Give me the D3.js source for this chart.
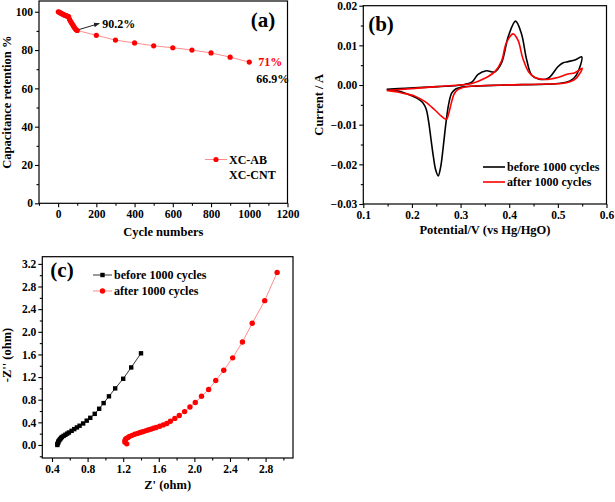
<!DOCTYPE html>
<html><head><meta charset="utf-8">
<script src="https://cdn.jsdelivr.net/npm/d3@7/dist/d3.min.js"></script>
<style>
body{margin:0;background:#fff;}
text{font-family:"Liberation Serif","Times New Roman",serif;font-weight:bold;}
</style></head><body>
<svg id="c" width="615" height="502"></svg>
<script>
// ---------- Panel (a) data ----------
const cycles = [1,5,10,15,20,25,30,35,40,45,50,55,60,65,70,75,80,85,90,95,100,200,300,400,500,600,700,800,900,1000];
const retention = [100,99.8,99.5,99.2,98.9,98.7,98.4,98.2,98.0,97.8,97.6,97.4,96.0,95.0,94.2,93.4,92.6,91.8,91.1,90.6,90.2,87.7,85.2,83.7,82.2,81.2,80.0,78.5,76.3,73.7];
const aXTicks = [0,200,400,600,800,1000,1200];
const aYTicks = [0,20,40,60,80,100];

// ---------- Panel (b) data (CV loops, potential V / current A) ----------
const cvBeforeE = [0.148,0.186,0.254,0.302,0.323,0.336,0.353,0.370,0.384,0.398,0.413,0.425,0.436,0.446,0.460,0.480,0.500,0.511,0.521,0.535,0.549,
                   0.538,0.525,0.500,0.390,0.323,0.300,0.290,0.282,0.276,0.270,0.264,0.259,0.254,0.249,0.244,0.239,0.234,0.229,0.222,0.210,0.192,0.172,0.148];
const cvBeforeI = [-0.0011,-0.0008,-0.0004,0.0000,0.0007,0.0027,0.0036,0.0033,0.0055,0.0122,0.0161,0.0130,0.0063,0.0025,0.0015,0.0017,0.0046,0.0056,0.0059,0.0063,0.0071,
                   0.0025,0.0010,0.0004,0.0000,-0.0003,-0.0006,-0.0010,-0.0020,-0.0045,-0.0095,-0.0160,-0.0207,-0.0229,-0.0215,-0.0180,-0.0135,-0.0090,-0.0060,-0.0044,-0.0033,-0.0023,-0.0015,-0.0011];
const cvAfterE = [0.148,0.250,0.323,0.350,0.370,0.384,0.394,0.408,0.418,0.428,0.440,0.453,0.473,0.500,0.521,0.535,0.550,
                  0.535,0.514,0.460,0.390,0.323,0.305,0.295,0.287,0.281,0.276,0.271,0.266,0.260,0.247,0.227,0.206,0.179,0.148];
const cvAfterI = [-0.0014,-0.0004,0.0004,0.0017,0.0033,0.0060,0.0106,0.0129,0.0113,0.0067,0.0033,0.0019,0.0014,0.0019,0.0028,0.0031,0.0042,
                  0.0014,0.0005,0.0002,0.0000,-0.0003,-0.0006,-0.0011,-0.0022,-0.0045,-0.0070,-0.0086,-0.0084,-0.0078,-0.0063,-0.0042,-0.0028,-0.0020,-0.0014];
const bXTicks = [0.1,0.2,0.3,0.4,0.5,0.6];
const bYTicks = [-0.03,-0.02,-0.01,0.00,0.01,0.02];

// ---------- Panel (c) data (Nyquist) ----------
const zReBefore = [0.46,0.46,0.47,0.47,0.48,0.49,0.50,0.51,0.53,0.55,0.57,0.59,0.62,0.65,0.68,0.71,0.75,0.79,0.83,0.88,0.93,0.98,1.04,1.11,1.20,1.29,1.40];
const zImBefore = [0.00,0.02,0.04,0.06,0.08,0.10,0.12,0.14,0.16,0.18,0.20,0.22,0.25,0.28,0.31,0.34,0.38,0.43,0.48,0.55,0.64,0.74,0.86,1.00,1.17,1.37,1.62];
const zReAfter = [1.24,1.22,1.22,1.23,1.25,1.27,1.30,1.33,1.36,1.39,1.42,1.45,1.48,1.51,1.54,1.57,1.61,1.65,1.69,1.73,1.78,1.83,1.89,1.95,2.01,2.08,2.16,2.24,2.33,2.43,2.54,2.65,2.79,2.93];
const zImAfter = [0.02,0.05,0.08,0.11,0.13,0.15,0.17,0.19,0.205,0.22,0.235,0.25,0.265,0.28,0.295,0.31,0.33,0.355,0.38,0.42,0.47,0.52,0.59,0.67,0.75,0.86,0.98,1.14,1.32,1.54,1.82,2.15,2.55,3.05];
const cXTicks = [0.4,0.8,1.2,1.6,2.0,2.4,2.8];
const cYTicks = [0.0,0.4,0.8,1.2,1.6,2.0,2.4,2.8,3.2];

const svg = d3.select("#c");
const RED = "#ff0000";
const TICK_FS = 11.5, TITLE_FS = 12.5;

function frame(g, x, y, xTicks, yTicks, xMinor, yMinor, xFmt, yFmt) {
  const [x0,x1] = x.range(), [y0,y1] = y.range();
  const xa = d3.axisBottom(x).tickValues(xTicks).tickSizeOuter(0).tickSize(4).tickPadding(3).tickFormat(xFmt);
  const ya = d3.axisLeft(y).tickValues(yTicks).tickSizeOuter(0).tickSize(4).tickPadding(2).tickFormat(yFmt);
  const gx = g.append("g").attr("transform",`translate(0,${y0})`).call(xa);
  const gy = g.append("g").attr("transform",`translate(${x0},0)`).call(ya);
  g.append("g").attr("transform",`translate(0,${y0})`).call(d3.axisBottom(x).tickValues(xMinor).tickSize(2.5).tickFormat("").tickSizeOuter(0))
    .call(s=>s.select(".domain").remove());
  g.append("g").attr("transform",`translate(${x0},0)`).call(d3.axisLeft(y).tickValues(yMinor).tickSize(2.5).tickFormat("").tickSizeOuter(0))
    .call(s=>s.select(".domain").remove());
  [gx,gy].forEach(s=>{ s.selectAll("text").attr("font-size",TICK_FS).attr("fill","#000"); });
  g.selectAll(".tick line").attr("stroke","#000").attr("stroke-width",1.1);
  g.selectAll(".domain").remove();
  g.append("rect").attr("x",Math.min(x0,x1)).attr("y",Math.min(y0,y1))
    .attr("width",Math.abs(x1-x0)).attr("height",Math.abs(y1-y0))
    .attr("fill","none").attr("stroke","#000").attr("stroke-width",1.2);
}

// ===== Panel (a) =====
{
  const x = d3.scaleLinear().domain([-100,1200]).range([39,287.5]);
  const y = d3.scaleLinear().domain([0,105.6]).range([203.3,1]);
  const g = svg.append("g");
  frame(g, x, y, aXTicks, aYTicks, d3.range(-100,1201,100).filter(v=>!aXTicks.includes(v)), d3.range(10,100,20), d3.format("d"), d3.format("d"));
  const pts = cycles.map((c,i)=>[c,retention[i]]);
  g.append("path").datum(pts).attr("fill","none").attr("stroke","#ff8c8c").attr("stroke-width",1)
    .attr("d", d3.line().x(d=>x(d[0])).y(d=>y(d[1])));
  g.selectAll("circle.a").data(pts).enter().append("circle").attr("cx",d=>x(d[0])).attr("cy",d=>y(d[1])).attr("r",2.6).attr("fill",RED);
  // axis titles
  g.append("text").attr("x",(39+287.5)/2).attr("y",236).attr("text-anchor","middle").attr("font-size",TITLE_FS).text("Cycle numbers");
  g.append("text").attr("transform",`translate(11,${(1+203.3)/2}) rotate(-90)`).attr("text-anchor","middle").attr("font-size",TITLE_FS).text("Capacitance retention %");
  g.append("text").attr("x",263).attr("y",27).attr("text-anchor","middle").attr("font-size",21).text("(a)");
  // annotations
  const p100 = [x(100), y(90.2)];
  g.append("defs").append("marker").attr("id","arr").attr("viewBox","0 0 10 10").attr("refX",9).attr("refY",5)
    .attr("markerWidth",6).attr("markerHeight",6).attr("orient","auto")
    .append("path").attr("d","M0,1 L10,5 L0,9 z").attr("fill","#222");
  g.append("line").attr("x1",p100[0]+2).attr("y1",p100[1]-1).attr("x2",p100[0]+22).attr("y2",p100[1]-7)
    .attr("stroke","#222").attr("stroke-width",1).attr("marker-end","url(#arr)");
  g.append("text").attr("x",p100[0]+25).attr("y",p100[1]-3).attr("font-size",12).text("90.2%");
  const p1000 = [x(1000), y(73.7)];
  g.append("text").attr("x",p1000[0]+9).attr("y",p1000[1]+4).attr("font-size",12).attr("fill",RED).text("71%");
  g.append("text").attr("x",p1000[0]+7).attr("y",p1000[1]+21).attr("font-size",12).text("66.9%");
  // legend
  g.append("line").attr("x1",205).attr("x2",227).attr("y1",159.5).attr("y2",159.5).attr("stroke","#ff8c8c").attr("stroke-width",1);
  g.append("circle").attr("cx",216).attr("cy",159.5).attr("r",2.6).attr("fill",RED);
  g.append("text").attr("x",229).attr("y",163.5).attr("font-size",12).text("XC-AB");
  g.append("text").attr("x",229).attr("y",178.5).attr("font-size",12).text("XC-CNT");
}

// ===== Panel (b) =====
{
  const x = d3.scaleLinear().domain([0.1,0.6]).range([363.3,606.5]);
  const y = d3.scaleLinear().domain([-0.03,0.02]).range([204,5.7]);
  const g = svg.append("g");
  frame(g, x, y, bXTicks, bYTicks, [0.15,0.25,0.35,0.45,0.55], [-0.025,-0.015,-0.005,0.005,0.015], d3.format(".1f"), d3.format(".2f"));
  const line = d3.line().x(d=>x(d[0])).y(d=>y(d[1])).curve(d3.curveCatmullRom.alpha(0.5));
  const before = cvBeforeE.map((e,i)=>[e,cvBeforeI[i]]);
  const after = cvAfterE.map((e,i)=>[e,cvAfterI[i]]);
  g.append("path").datum(before).attr("fill","none").attr("stroke","#000").attr("stroke-width",1.6).attr("d",line);
  g.append("path").datum(after).attr("fill","none").attr("stroke",RED).attr("stroke-width",1.6).attr("d",line);
  g.append("text").attr("x",485).attr("y",234).attr("text-anchor","middle").attr("font-size",TITLE_FS).text("Potential/V (vs Hg/HgO)");
  g.append("text").attr("transform",`translate(323,${(5.7+204)/2}) rotate(-90)`).attr("text-anchor","middle").attr("font-size",TITLE_FS).text("Current / A");
  g.append("text").attr("x",381).attr("y",31).attr("text-anchor","middle").attr("font-size",21).text("(b)");
  g.append("line").attr("x1",483).attr("x2",505).attr("y1",167).attr("y2",167).attr("stroke","#000").attr("stroke-width",1.6);
  g.append("text").attr("x",507).attr("y",171).attr("font-size",12).text("before 1000 cycles");
  g.append("line").attr("x1",483).attr("x2",505).attr("y1",182).attr("y2",182).attr("stroke",RED).attr("stroke-width",1.6);
  g.append("text").attr("x",507).attr("y",186).attr("font-size",12).text("after 1000 cycles");
}

// ===== Panel (c) =====
{
  const x = d3.scaleLinear().domain([0.291,3.108]).range([42.3,293]);
  const y = d3.scaleLinear().domain([-0.23,3.327]).range([458,256.7]);
  const g = svg.append("g");
  frame(g, x, y, cXTicks, cYTicks, [0.6,1.0,1.4,1.8,2.2,2.6,3.0], [-0.2,0.2,0.6,1.0,1.4,1.8,2.2,2.6,3.0], d3.format(".1f"), d3.format(".1f"));
  const line = d3.line().x(d=>x(d[0])).y(d=>y(d[1]));
  const before = zReBefore.map((v,i)=>[v,zImBefore[i]]);
  const after = zReAfter.map((v,i)=>[v,zImAfter[i]]);
  g.append("path").datum(before).attr("fill","none").attr("stroke","#000").attr("stroke-width",0.8).attr("d",line);
  g.append("path").datum(after).attr("fill","none").attr("stroke","#ff8c8c").attr("stroke-width",1).attr("d",line);
  g.selectAll("rect.b").data(before).enter().append("rect").attr("x",d=>x(d[0])-2.2).attr("y",d=>y(d[1])-2.2).attr("width",4.4).attr("height",4.4).attr("fill","#000");
  g.selectAll("circle.r").data(after).enter().append("circle").attr("cx",d=>x(d[0])).attr("cy",d=>y(d[1])).attr("r",2.7).attr("fill",RED);
  g.append("text").attr("x",(42.3+293)/2).attr("y",489).attr("text-anchor","middle").attr("font-size",TITLE_FS).text("Z' (ohm)");
  g.append("text").attr("transform",`translate(11,355) rotate(-90)`).attr("text-anchor","middle").attr("font-size",TITLE_FS).text("-Z'' (ohm)");
  g.append("text").attr("x",62).attr("y",277).attr("text-anchor","middle").attr("font-size",21).text("(c)");
  g.append("line").attr("x1",93).attr("x2",112).attr("y1",275).attr("y2",275).attr("stroke","#000").attr("stroke-width",0.8);
  g.append("rect").attr("x",100.3).attr("y",272.8).attr("width",4.4).attr("height",4.4).attr("fill","#000");
  g.append("text").attr("x",114).attr("y",279).attr("font-size",12).text("before 1000 cycles");
  g.append("line").attr("x1",93).attr("x2",112).attr("y1",291).attr("y2",291).attr("stroke","#ff8c8c").attr("stroke-width",1);
  g.append("circle").attr("cx",102.5).attr("cy",291).attr("r",2.7).attr("fill",RED);
  g.append("text").attr("x",114).attr("y",295).attr("font-size",12).text("after 1000 cycles");
}
</script></body></html>
